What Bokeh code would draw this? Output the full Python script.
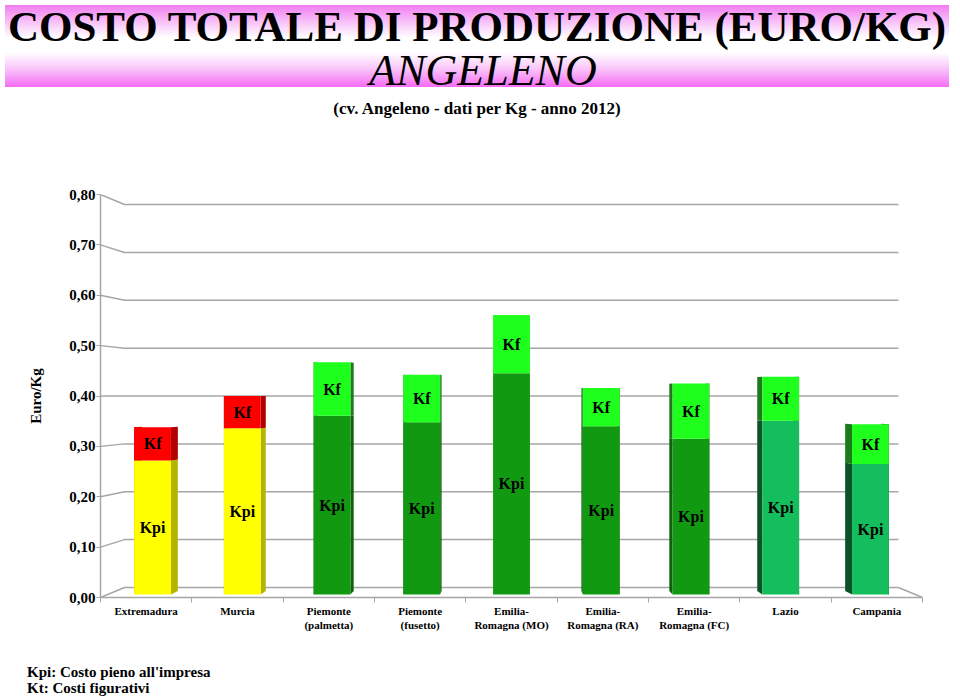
import numpy as np
from bokeh.plotting import figure
from bokeh.models import Range1d, FixedTicker, CustomJSTickFormatter, Div
from bokeh.layouts import column
from bokeh.embed import file_html
from bokeh.resources import INLINE
from bokeh.core.properties import value

# ---------------- data ----------------
categories = ["Extremadura", "Murcia", "Piemonte\n(palmetta)", "Piemonte\n(fusetto)",
              "Emilia-\nRomagna (MO)", "Emilia-\nRomagna (RA)", "Emilia-\nRomagna (FC)",
              "Lazio", "Campania"]
kpi = [0.270, 0.335, 0.360, 0.347, 0.446, 0.339, 0.314, 0.350, 0.263]
kf = [0.067, 0.065, 0.108, 0.096, 0.117, 0.077, 0.111, 0.089, 0.080]
y_ticks = [0.0, 0.1, 0.2, 0.3, 0.4, 0.5, 0.6, 0.7, 0.8]
series_labels = ["Kpi", "Kf"]

kpi_colors = ["#FFFF00", "#FFFF00", "#119A11", "#119A11", "#119A11", "#119A11", "#119A11", "#14BE5C", "#14BE5C"]
kpi_side = ["#B5B500", "#B5B500", "#0A650A", "#0A650A", "#0A650A", "#0A650A", "#0A650A", "#0B5229", "#0B5229"]
kf_colors = ["#FF0000", "#FF0000", "#1EFF1E", "#1EFF1E", "#1EFF1E", "#1EFF1E", "#1EFF1E", "#1EFF1E", "#1EFF1E"]
kf_side = ["#B00000", "#B00000", "#1C7A1C", "#1C7A1C", "#1C7A1C", "#1C7A1C", "#1C7A1C", "#1C7A1C", "#1C7A1C"]

FONT = "Liberation Serif"
GRID = "#A6A6A6"

n = len(categories)
xs = np.arange(n, dtype=float)
kpi_a = np.array(kpi)
tot_a = kpi_a + np.array(kf)

# ------------- 3D perspective (style) -------------
VX = (n - 1) / 2.0
SX, SY, FY = 0.0584, 0.0498, 0.0199
DF, DB = 0.30, 0.64
BW = 0.41


def px(x, d):
    return VX + (np.asarray(x, dtype=float) - VX) * (1 - SX * d)


def py(y, d):
    return np.asarray(y, dtype=float) * (1 - SY * d) + FY * d


p = figure(width=944, height=515, x_range=Range1d(-0.5, n - 0.5), y_range=Range1d(0, 0.8),
           output_backend="svg", toolbar_location=None,
           min_border_left=100, min_border_right=22, min_border_top=62, min_border_bottom=50)
p.outline_line_color = None
p.grid.visible = False

# back wall / floor lines
gx0, gx1 = -0.5, n - 0.5
bl, br = float(px(gx0, 1)), float(px(gx1, 1))
lx, ly = [], []
for t in y_ticks:
    yb = float(py(t, 1))
    lx.append([gx0, bl, br])
    ly.append([t, yb, yb])
lx.append([gx1, br])
ly.append([0.0, float(py(0.0, 1))])
p.multi_line(lx, ly, line_color=GRID, line_width=1.5)

# bars
segments = [(np.zeros(n), kpi_a, kpi_colors, kpi_side), (kpi_a, tot_a, kf_colors, kf_side)]
sx_, sy_, sc_ = [], [], []
for y0, y1, fc, sc in segments:
    for i in range(n):
        for xe in (xs[i] - BW / 2, xs[i] + BW / 2):
            sx_.append([float(px(xe, DF)), float(px(xe, DB)), float(px(xe, DB)), float(px(xe, DF))])
            sy_.append([float(py(y0[i], DF)), float(py(y0[i], DB)), float(py(y1[i], DB)), float(py(y1[i], DF))])
            sc_.append(sc[i])
p.patches(sx_, sy_, fill_color=sc_, line_color=None)

for y0, y1, fc, sc in segments:
    p.quad(left=px(xs - BW / 2, DF), right=px(xs + BW / 2, DF),
           bottom=py(y0, DF), top=py(y1, DF), fill_color=fc, line_color=None)

# in-bar labels
p.text(x=px(xs, DF), y=py(kpi_a / 2, DF), text=[series_labels[0]] * n,
       text_font=value(FONT), text_font_style="bold", text_font_size="16px",
       text_align="center", text_baseline="middle", text_color="black")
p.text(x=px(xs, DF), y=py((kpi_a + tot_a) / 2, DF), text=[series_labels[1]] * n,
       text_font=value(FONT), text_font_style="bold", text_font_size="16px",
       text_align="center", text_baseline="middle", text_color="black")

# axes
ya = p.yaxis[0]
ya.ticker = FixedTicker(ticks=y_ticks, minor_ticks=[])
ya.formatter = CustomJSTickFormatter(code="return tick.toFixed(2).replace('.', ',');")
ya.axis_line_color = GRID
ya.axis_line_width = 1.5
ya.major_tick_line_color = GRID
ya.major_tick_out = 4
ya.major_tick_in = 0
ya.major_label_standoff = 1
ya.major_label_text_font = FONT
ya.major_label_text_font_style = "bold"
ya.major_label_text_font_size = "15px"
ya.major_label_text_color = "black"
ya.axis_label = "Euro/Kg"
ya.axis_label_text_font = FONT
ya.axis_label_text_font_style = "bold"
ya.axis_label_text_font_size = "15px"
ya.axis_label_text_color = "black"
ya.axis_label_standoff = 22

xa = p.xaxis[0]
xa.ticker = FixedTicker(ticks=list(range(n)), minor_ticks=[i - 0.5 for i in range(n + 1)])
xa.major_label_overrides = {i: c for i, c in enumerate(categories)}
xa.axis_line_color = GRID
xa.axis_line_width = 1.5
xa.major_tick_line_color = None
xa.major_tick_out = 0
xa.minor_tick_line_color = GRID
xa.minor_tick_out = 5
xa.minor_tick_in = 0
xa.major_label_standoff = 2
xa.major_label_text_font = FONT
xa.major_label_text_font_style = "bold"
xa.major_label_text_font_size = "11px"
xa.major_label_text_color = "black"

banner = Div(width=944, height=122, text=f"""
<div style="position:relative;width:944px;height:122px;font-family:'{FONT}',serif;color:#000;">
 <div style="position:absolute;left:0;top:0;width:944px;height:82px;background:linear-gradient(to bottom,#F07CF0 0%,#F9C6F9 22%,#FFFFFF 40%,#FFFFFF 58%,#FAC4FA 78%,#F56CF5 100%);"></div>
 <div style="position:absolute;left:0;top:0px;width:944px;text-align:center;font-size:43px;font-weight:bold;line-height:1;white-space:nowrap;">COSTO TOTALE DI PRODUZIONE (EURO/KG)</div>
 <div style="position:absolute;left:6px;top:44px;width:944px;text-align:center;font-size:44px;font-style:italic;line-height:1;">ANGELENO</div>
 <div style="position:absolute;left:0;top:95px;width:944px;text-align:center;font-size:17px;font-weight:bold;line-height:1;">(cv. Angeleno - dati per Kg - anno 2012)</div>
</div>""")

note = Div(width=944, height=43, text=f"""
<div style="padding:12px 0 0 22px;font-family:'{FONT}',serif;font-weight:bold;font-size:15px;line-height:16px;color:#000;white-space:nowrap;">Kpi: Costo pieno all'impresa<br>Kt: Costi figurativi</div>""")

layout = column(banner, p, note)
open("out.html", "w").write(file_html(layout, INLINE))
